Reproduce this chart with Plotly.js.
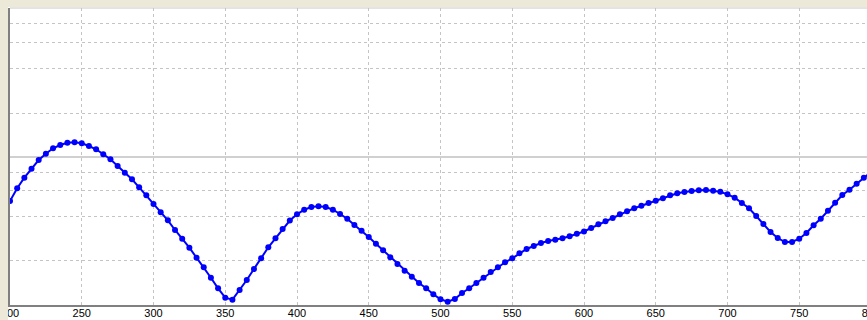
<!DOCTYPE html>
<html>
<head>
<meta charset="utf-8">
<script src="https://cdn.plot.ly/plotly-3.0.1.min.js"></script>
<style>
  html, body { margin: 0; padding: 0; background: #ECE9D8; overflow: hidden; width: 867px; height: 320px; }
  #chart { position: absolute; left: 8px; top: 7px; width: 900px; height: 313px; background: #fff; }
</style>
</head>
<body>
<div id="chart"></div>
<script>
// wavelength (x) and signal height (arbitrary units)
const wavelength = [];
for (let w = 200; w <= 800; w += 5) wavelength.push(w);
const signal = [
  104, 116.7, 127.3, 136.3, 145, 151.3, 156.7, 160, 162.3, 162.7,
  161.7, 159, 155.7, 150.7, 145.7, 139, 132.3, 125.7, 117.7, 109.7,
  101, 92.7, 84.7, 75, 66.3, 57.3, 47.3, 37.7, 27.3, 16.7,
  7.3, 5.3, 15, 25, 36, 46.7, 57.7, 66.7, 76, 84.5,
  90.7, 95.3, 98, 98.7, 98, 95.3, 91, 86.3, 80, 74.3,
  68, 61.3, 54.7, 47.7, 41, 34.3, 28.3, 22, 16.7, 10.7,
  5.7, 3.3, 6, 12, 16.7, 22, 27.3, 33, 37.7, 42.7,
  46.7, 51.7, 56, 59, 62, 64, 65.3, 66.7, 68.7, 71.3,
  73.5, 77, 80.7, 83.7, 87, 90.7, 93.7, 96.7, 99.3, 102,
  104.3, 106.7, 109.7, 111.7, 113, 114, 114.7, 115, 114.3, 113.3,
  110.7, 107.3, 102, 96.7, 89, 81, 73, 67, 63, 63,
  66.3, 72, 79.7, 86.3, 94.3, 102.3, 110, 115.3, 121.3, 127.3,
  133
];
const xTicks = [200, 250, 300, 350, 400, 450, 500, 550, 600, 650, 700, 750, 800];
const yGrid = [45, 89, 115, 133, 192, 237, 263, 282];
const ySolid = 148;

const trace = {
  x: wavelength, y: signal, type: 'scatter', mode: 'lines+markers',
  line: { color: '#0000FF', width: 2 },
  marker: { color: '#0000FF', size: 6, symbol: 'circle' },
  cliponaxis: false, hoverinfo: 'none'
};

const layout = {
  width: 900, height: 313,
  margin: { l: 2, r: 0, t: 1, b: 15, pad: 0 },
  paper_bgcolor: '#FFFFFF', plot_bgcolor: '#FFFFFF',
  showlegend: false,
  xaxis: {
    range: [200, 200 + 898 / 1.435],
    tickvals: xTicks, ticktext: xTicks.map(String),
    ticks: '', ticklabeloverflow: 'allow', ticklabelstandoff: -3,
    showgrid: true, gridcolor: '#C4C4C4', griddash: '3px,3px', gridwidth: 1,
    showline: true, linecolor: '#808080', linewidth: 2, zeroline: false,
    tickfont: { family: 'Liberation Sans, Arial, sans-serif', size: 11, color: '#000' }
  },
  yaxis: {
    range: [0, 297],
    tickvals: yGrid, showticklabels: false, ticks: '',
    showgrid: true, gridcolor: '#C4C4C4', griddash: '3px,3px', gridwidth: 1,
    showline: true, linecolor: '#808080', linewidth: 2, zeroline: false
  },
  shapes: [
    { type: 'line', xref: 'paper', yref: 'y', x0: 0, x1: 1, y0: ySolid, y1: ySolid,
      line: { color: '#C0C0C0', width: 1.5 }, layer: 'below' },
    { type: 'line', xref: 'paper', yref: 'paper', x0: 0, x1: 1, y0: 1, y1: 1,
      line: { color: '#C8C8C8', width: 1 }, layer: 'below' }
  ]
};

Plotly.newPlot('chart', [trace], layout, { staticPlot: true, displayModeBar: false });
</script>
</body>
</html>
